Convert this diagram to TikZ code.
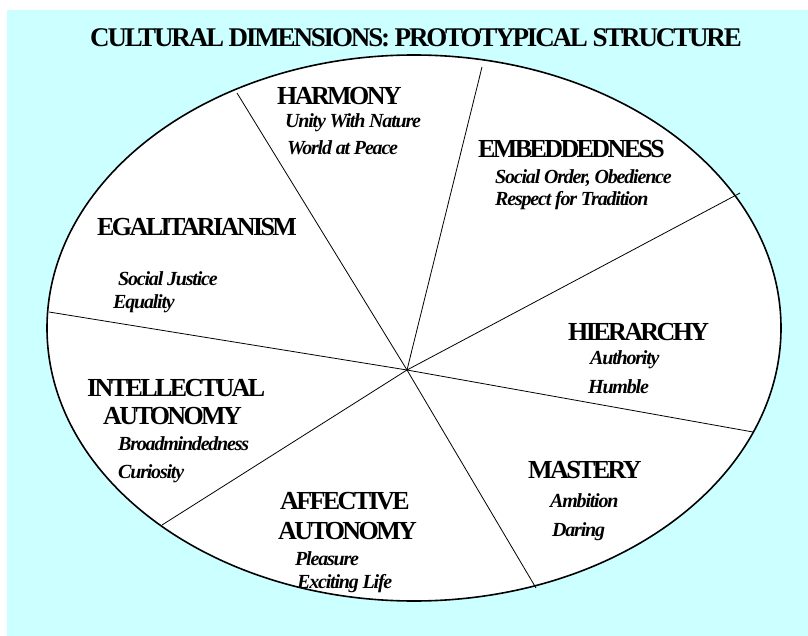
\documentclass[tikz,border=0pt]{standalone}
\usepackage{fontspec}
\setmainfont{Liberation Serif}
\newfontfamily\titlefont{Liberation Serif}[LetterSpace=-8]
\newfontfamily\headfont{Liberation Serif}[LetterSpace=-10]
\newfontfamily\valfont{Liberation Serif}[LetterSpace=-6]
\usepackage{xcolor}
\usepackage{tikz}

\definecolor{paleaqua}{HTML}{CCFFFF}

\begin{document}
\begin{tikzpicture}[
  x=1pt, y=-1pt,
  dim/.style={anchor=base west, inner sep=0pt, font=\headfont\bfseries\fontsize{26}{26}\selectfont},
  val/.style={anchor=base west, inner sep=0pt, font=\valfont\bfseries\itshape\fontsize{20}{20}\selectfont},
  spoke/.style={draw, line width=0.8pt}
]
  \useasboundingbox (0,0) rectangle (808,636);
  \fill[paleaqua] (7,10) rectangle (808,636);

  \node[anchor=base, inner sep=0pt, font=\titlefont\bfseries\fontsize{27}{27}\selectfont] (title) at (416,47)
    {CULTURAL DIMENSIONS: PROTOTYPICAL STRUCTURE};

  % circle of values
  \draw[fill=white, line width=1.6pt] (414,328) ellipse [x radius=367pt, y radius=273pt];

  \coordinate (hub) at (407,370);
  \coordinate (r1) at (237,93);
  \coordinate (r2) at (482,67);
  \coordinate (r3) at (740,193);
  \coordinate (r4) at (753,432);
  \coordinate (r5) at (536,588);
  \coordinate (r6) at (162,525);
  \coordinate (r7) at (49,312);
  \foreach \r in {r1,r2,r3,r4,r5,r6,r7}
    \draw[spoke] (hub) -- (\r);

  % harmony
  \node[dim] (harm) at (277,105) {HARMONY};
  \node[val] (harm1) at (285,128) {Unity With Nature};
  \node[val] (harm2) at (287,155) {World at Peace};

  % embeddedness
  \node[dim] (emb) at (478,158) {EMBEDDEDNESS};
  \node[val] (emb1) at (495,184) {Social Order, Obedience};
  \node[val] (emb2) at (495,206) {Respect for Tradition};

  % hierarchy
  \node[dim] (hier) at (568,340) {HIERARCHY};
  \node[val] (hier1) at (590,364) {Authority};
  \node[val] (hier2) at (588,393) {Humble};

  % mastery
  \node[dim] (mast) at (528,478) {MASTERY};
  \node[val] (mast1) at (550,507) {Ambition};
  \node[val] (mast2) at (552,536) {Daring};

  % affective autonomy
  \node[dim] (aff) at (280,509) {AFFECTIVE};
  \node[dim] (aff0) at (278,539) {AUTONOMY};
  \node[val] (aff1) at (295,565) {Pleasure};
  \node[val] (aff2) at (297,588) {Exciting Life};

  % intellectual autonomy
  \node[dim] (intel) at (87,396) {INTELLECTUAL};
  \node[dim] (intel0) at (103,424) {AUTONOMY};
  \node[val] (intel1) at (118,450) {Broadmindedness};
  \node[val] (intel2) at (118,478) {Curiosity};

  % egalitarianism
  \node[dim] (egal) at (97,236) {EGALITARIANISM};
  \node[val] (egal1) at (118,286) {Social Justice};
  \node[val] (egal2) at (113,308) {Equality};
\end{tikzpicture}
\end{document}
